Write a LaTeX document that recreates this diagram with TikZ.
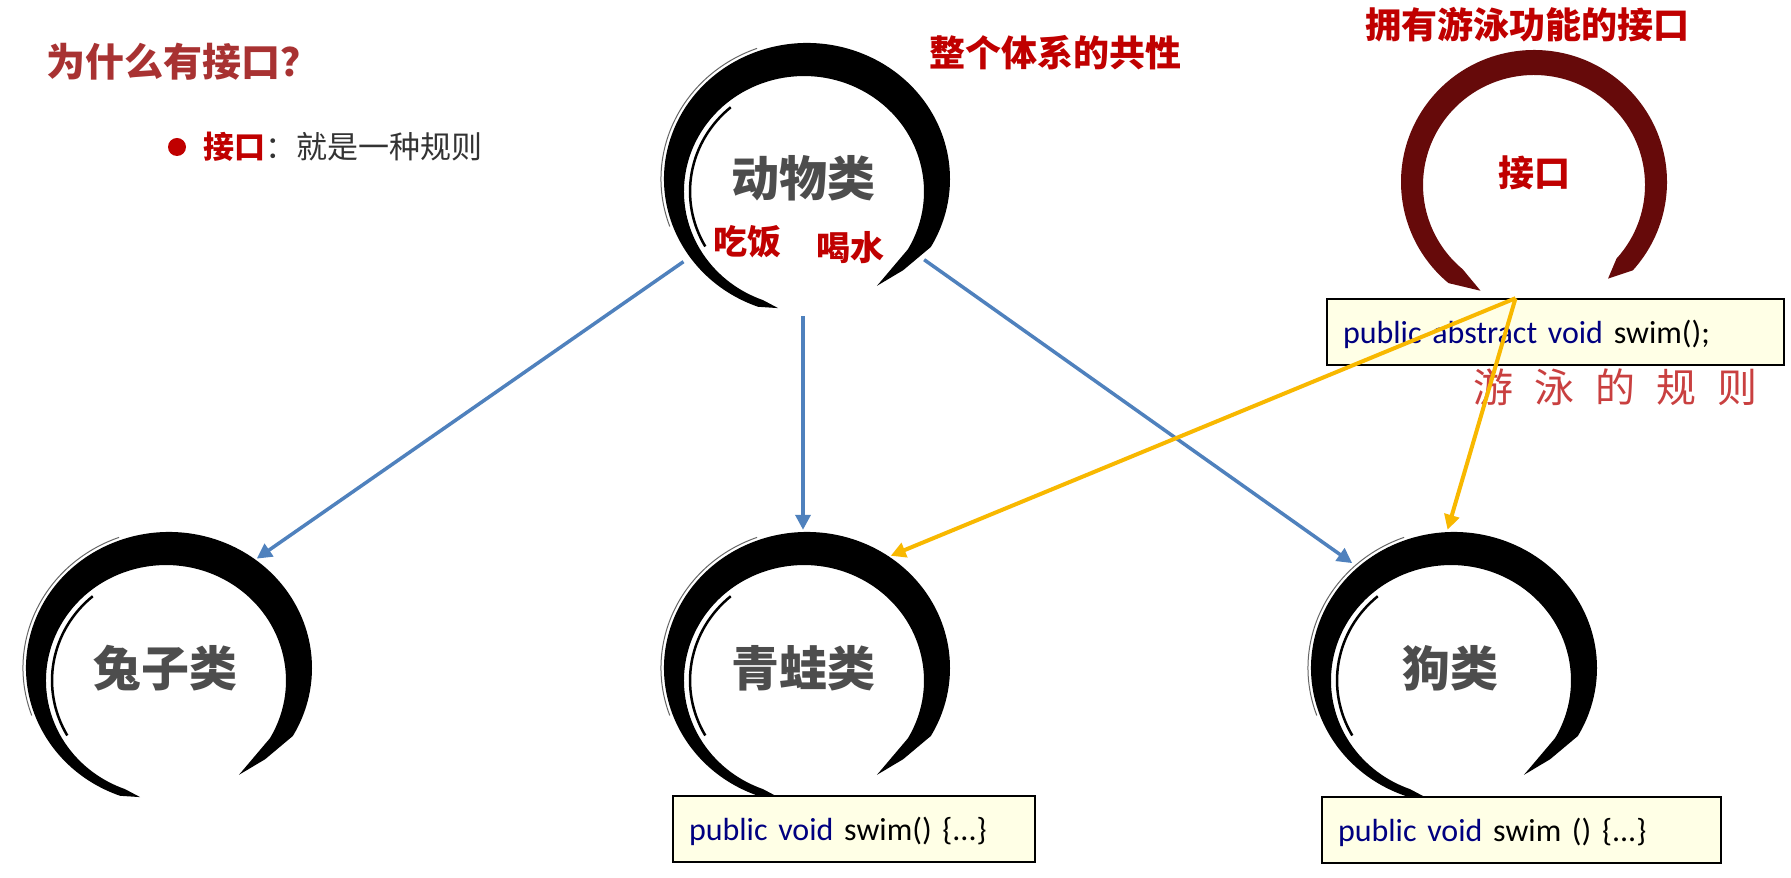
\documentclass[tikz,border=0pt]{standalone}
\usepackage{fontspec}
\setmainfont{Carlito}
\newfontfamily\cjk{Noto Sans CJK SC}
\usetikzlibrary{arrows.meta}
\usetikzlibrary{shapes.geometric}

\definecolor{titlered}{HTML}{A83232}
\definecolor{labelred}{HTML}{C00000}
\definecolor{classgray}{HTML}{4D4D4D}
\definecolor{bodygray}{HTML}{333333}
\definecolor{inkred}{HTML}{660A0A}
\definecolor{handred}{HTML}{C94040}
\definecolor{codenavy}{HTML}{000080}
\definecolor{boxfill}{HTML}{FFFFE6}
\definecolor{inheritblue}{HTML}{4F81BD}
\definecolor{swimyellow}{HTML}{F8B800}

\tikzset{
	enso/.pic={
		\fill[black] (258:139 and 132) -- (250:143 and 136)
			arc[start angle=250, end angle=-30, x radius=143, y radius=136]
			-- (-45:136 and 129) -- (-58:132 and 126) -- (100.9,-70.3)
			arc[start angle=-30, end angle=250, x radius=120, y radius=115.5]
			-- cycle;
		\draw[black, line width=2.5pt] (-101.7,-67.5) arc[start angle=210, end angle=130, x radius=114, y radius=110];
		\draw[black!60, line width=1pt] (200:146 and 139) arc[start angle=200, end angle=110, x radius=146, y radius=139];
	},
	ifaceenso/.pic={
		\fill[inkred] (244:122 and 121) -- (230:133 and 132)
			arc[start angle=230, end angle=-42, x radius=133, y radius=132]
			-- (-53:123 and 121) -- (82.5,-76.6)
			arc[start angle=-42, end angle=230, x radius=111, y radius=110]
			-- cycle;
	},
}

\begin{document}
\begin{tikzpicture}[x=1pt, y=1pt,
	classnode/.style={ellipse, minimum width=300pt, minimum height=276pt, inner sep=0pt, text=classgray, font=\cjk\bfseries\fontsize{48pt}{48pt}\selectfont},
	redlabel/.style={text=labelred, font=\cjk\bfseries\fontsize{36pt}{36pt}\selectfont},
	smallred/.style={text=labelred, font=\cjk\bfseries\fontsize{34pt}{34pt}\selectfont},
	codebox/.style={draw=black, line width=1.5pt, fill=boxfill, minimum height=66pt, inner xsep=16pt, inner ysep=0pt, text height=24pt, text depth=0pt, align=left, font=\fontsize{32pt}{32pt}\selectfont},
	bullet/.style={circle, fill=labelred, minimum size=18pt, inner sep=0pt},
	inherit/.style={draw=inheritblue, line width=3.5pt, -{Triangle[length=15pt, width=15pt]}},
	implement/.style={draw=swimyellow, line width=4pt, -{Triangle[length=15pt, width=15pt]}}]
	\fill[white] (0,0) rectangle (1791,878);
	\useasboundingbox (0,0) rectangle (1791,878);

	% brush circles
	\pic at (807,699) {enso};
	\pic at (169,210) {enso};
	\pic at (807,210) {enso};
	\pic at (1454,210) {enso};
	\pic at (1534,696) {ifaceenso};

	% classes
	\node[classnode] (animal) at (803,700) {动物类};
	\node[smallred] (eat) at (747,636) {吃饭};
	\node[smallred] (drink) at (850,630) {喝水};
	\node[classnode] (rabbit) at (165,210) {兔子类};
	\node[classnode] (frog) at (803,210) {青蛙类};
	\node[classnode] (dog) at (1450,210) {狗类};
	\node[redlabel] (iface) at (1534,705) {接口};

	% texts
	\node[anchor=west, text=titlered, font=\cjk\bfseries\fontsize{39pt}{39pt}\selectfont] (why) at (43,816) {为什么有接口？};
	\node[bullet] (dot) at (177,731) {};
	\node[anchor=west, text=bodygray, font=\cjk\fontsize{31pt}{31pt}\selectfont] (rule) at (200,731) {\textcolor{labelred}{\bfseries 接口}：就是一种规则};
	\node[redlabel] (common) at (1055,825) {整个体系的共性};
	\node[redlabel] (swimtitle) at (1527,853) {拥有游泳功能的接口};
	\node[text=handred, font=\cjk\fontsize{40pt}{40pt}\selectfont] (swimrule) at (1615,491) {游\hspace{21pt}泳\hspace{21pt}的\hspace{21pt}规\hspace{21pt}则};

	% code
	\node[codebox, text width=425pt] (absbox) at (1555.5,546) {\textcolor{codenavy}{public abstract void} swim();};
	\node[codebox, text width=330pt] (frogbox) at (854,49) {\textcolor{codenavy}{public void} swim() \{...\}};
	\node[codebox, text width=367pt] (dogbox) at (1521.5,48) {\textcolor{codenavy}{public void} swim () \{...\}};

	% arrows
	\draw[inherit] (animal.215) -- (rabbit.50);
	\draw[inherit] (animal.south) -- (frog.north);
	\draw[inherit] (animal.326) -- (dog.133);
	\draw[implement] ([xshift=-40pt]absbox.north) -- (frog.52);
	\draw[implement] ([xshift=-40pt]absbox.north) -- (dog.91);
\end{tikzpicture}
\end{document}
